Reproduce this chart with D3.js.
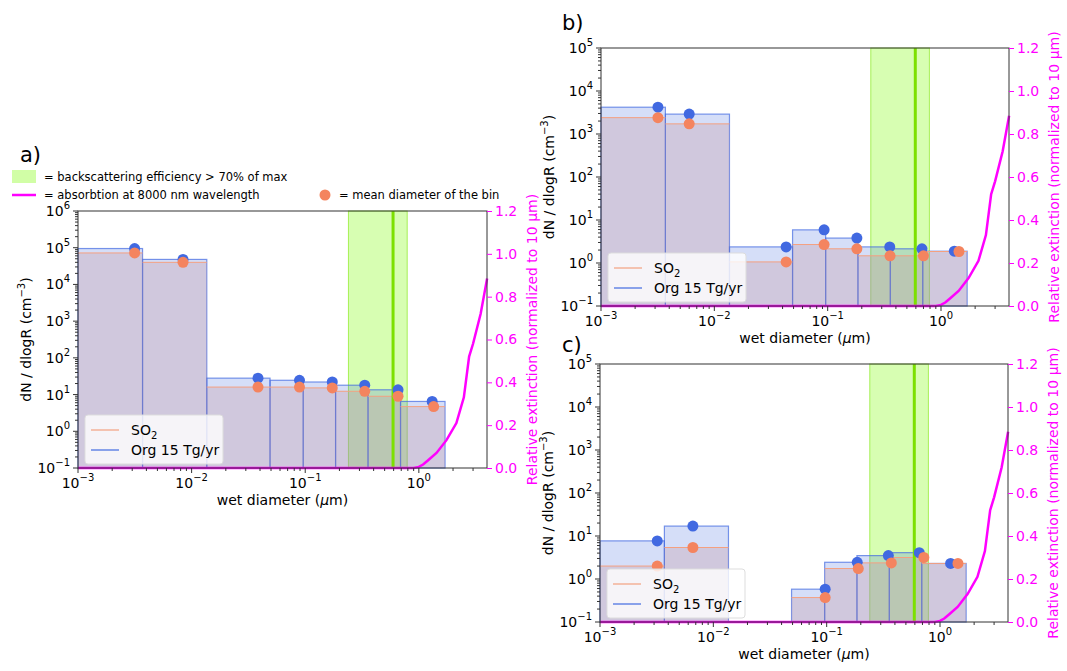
<!DOCTYPE html>
<html><head><meta charset="utf-8">
<script src="https://cdn.jsdelivr.net/npm/d3@7"></script>
<style>body{margin:0;background:#fff}svg{font-family:"DejaVu Sans",sans-serif}</style>
</head><body><svg id="c" width="1067" height="671"></svg>
<script>
// ---- data ----
const binEdges = [0.001, 0.0037, 0.0136, 0.049, 0.096, 0.185, 0.357, 0.69, 1.7];
const aOrg = [95000, 48000, 28, 24.5, 22, 18, 13.5, 6.5];
const aSO2 = [72000, 40000, 16, 16, 15.2, 12.3, 9, 4.7];
const aOrgX = [0.00315, 0.0084, 0.0384, 0.089, 0.173, 0.334, 0.656, 1.31];
const aSO2X = [0.00315, 0.0084, 0.0384, 0.089, 0.173, 0.334, 0.656, 1.35];
const bOrg = [4200, 2900, 2.37, 5.9, 3.8, 2.37, 2.14, 1.88];
const bSO2 = [2400, 1720, 1.06, 2.69, 2.14, 1.47, 1.47, 1.85];
const bOrgX = [0.00318, 0.006, 0.043, 0.093, 0.181, 0.353, 0.679, 1.31];
const bSO2X = [0.00318, 0.006, 0.043, 0.093, 0.181, 0.355, 0.70, 1.44];
const cOrg = [7.7, 17, null, 0.58, 2.45, 3.5, 4.1, 2.3];
const cSO2 = [2.0, 5.4, null, 0.37, 1.75, 2.37, 3.16, 2.3];
const cOrgX = [0.0032, 0.0066, null, 0.097, 0.186, 0.35, 0.656, 1.24];
const cSO2X = [0.0032, 0.0066, null, 0.097, 0.19, 0.372, 0.72, 1.44];
const bandRange = [0.24, 0.79];
const bandLine = 0.593;
const extX = [0.001, 0.9, 1.0, 1.09, 1.2, 1.43, 1.75, 2.14, 2.49, 2.77, 3.0, 3.5, 3.99];
const extY = [0, 0, 0.005, 0.016, 0.035, 0.07, 0.13, 0.21, 0.33, 0.52, 0.58, 0.72, 0.885];
const rightTicks = [0.0, 0.2, 0.4, 0.6, 0.8, 1.0, 1.2];

const svg = d3.select("#c");
const supMinus = "\u2212";

function drawPanel(p){
  const g = svg.append("g");
  const x = d3.scaleLog().domain([0.001, 3.98]).range([p.l, p.r]);
  const y = d3.scaleLog().domain([0.1, p.ymax]).range([p.b, p.t]);
  const yr = d3.scaleLinear().domain([0, 1.2]).range([p.b, p.t]);
  // band
  g.append("rect").attr("x", x(bandRange[0])).attr("width", x(bandRange[1]) - x(bandRange[0]))
    .attr("y", p.t).attr("height", p.b - p.t).attr("fill", "rgba(124,252,0,0.3)").attr("stroke", "rgba(124,230,0,0.6)");
  // bars
  const bars = d3.range(8);
  bars.forEach(i => {
    const x0 = x(binEdges[i]), x1 = x(binEdges[i+1]);
    if (p.org[i] != null) g.append("rect").attr("x", x0).attr("width", x1 - x0).attr("y", y(p.org[i])).attr("height", p.b - y(p.org[i]))
      .attr("fill", "rgba(65,105,225,0.22)").attr("stroke", "rgba(65,105,225,0.7)").attr("stroke-width", 1.2);
  });
  bars.forEach(i => {
    const x0 = x(binEdges[i]), x1 = x(binEdges[i+1]);
    if (p.so2[i] != null) {
      g.append("rect").attr("x", x0).attr("width", x1 - x0).attr("y", y(p.so2[i])).attr("height", p.b - y(p.so2[i]))
        .attr("fill", "rgba(200,150,160,0.3)");
      g.append("line").attr("x1", x0).attr("x2", x1).attr("y1", y(p.so2[i])).attr("y2", y(p.so2[i])).attr("stroke", "#f4a080").attr("stroke-width", 1);
    }
  });
  // band line drawn over bars
  g.append("line").attr("x1", x(bandLine)).attr("x2", x(bandLine)).attr("y1", p.t).attr("y2", p.b).attr("stroke", "#7ce000").attr("stroke-width", 3);
  // dots
  bars.forEach(i => {
    if (p.org[i] != null) g.append("circle").attr("cx", x(p.orgX[i])).attr("cy", y(p.org[i])).attr("r", 5.5).attr("fill", "#4169e1");
  });
  bars.forEach(i => {
    if (p.so2[i] != null) g.append("circle").attr("cx", x(p.so2X[i])).attr("cy", y(p.so2[i])).attr("r", 5.5).attr("fill", "#f4845f");
  });
  // redraw org dots slightly underneath? (orange over blue as in reference when overlapping)
  // extinction curve
  const line = d3.line().x((d, i) => x(extX[i])).y(d => yr(d));
  g.append("path").attr("d", line(extY)).attr("fill", "none").attr("stroke", "#ff00ff").attr("stroke-width", 2.5);
  // frame
  g.append("rect").attr("x", p.l).attr("y", p.t).attr("width", p.r - p.l).attr("height", p.b - p.t).attr("fill", "none").attr("stroke", "#333").attr("stroke-width", 1);
  // x axis
  const xt = g.append("g").attr("transform", `translate(0,${p.b})`);
  const minorX = [];
  for (let e = -3; e <= 0; e++) for (let m = 1; m <= 9; m++) { const v = m * Math.pow(10, e); if (v <= 3.98) minorX.push(v); }
  minorX.forEach(v => {
    const major = Math.abs(Math.log10(v) - Math.round(Math.log10(v))) < 1e-9;
    xt.append("line").attr("x1", x(v)).attr("x2", x(v)).attr("y1", 0).attr("y2", major ? 5 : 3).attr("stroke", "#333");
    if (major) {
      const t = xt.append("text").attr("x", x(v)).attr("y", 20).attr("text-anchor", "middle").attr("font-size", 14).attr("fill", "#000");
      t.append("tspan").text("10");
      const e = Math.round(Math.log10(v));
      t.append("tspan").attr("dy", -7).attr("font-size", 10).text(e < 0 ? supMinus + Math.abs(e) : "" + e);
    }
  });
  const xl = g.append("text").attr("x", (p.l + p.r) / 2).attr("y", p.b + 37).attr("text-anchor", "middle").attr("font-size", 14);
  xl.append("tspan").text("wet diameter (");
  xl.append("tspan").attr("font-style", "italic").text("\u03bc");
  xl.append("tspan").text("m)");
  // y axis left
  const yt = g.append("g");
  const emax = Math.round(Math.log10(p.ymax));
  for (let e = -1; e <= emax; e++) {
    yt.append("line").attr("x1", p.l - 5).attr("x2", p.l).attr("y1", y(Math.pow(10, e))).attr("y2", y(Math.pow(10, e))).attr("stroke", "#333");
    const t = yt.append("text").attr("x", p.l - 8).attr("y", y(Math.pow(10, e)) + 5).attr("text-anchor", "end").attr("font-size", 14);
    t.append("tspan").text("10");
    t.append("tspan").attr("dy", -7).attr("font-size", 10).text(e < 0 ? supMinus + Math.abs(e) : "" + e);
    if (e < emax) for (let m = 2; m <= 9; m++) {
      const v = m * Math.pow(10, e);
      yt.append("line").attr("x1", p.l - 3).attr("x2", p.l).attr("y1", y(v)).attr("y2", y(v)).attr("stroke", "#333");
    }
  }
  const yl = g.append("text").attr("transform", `translate(${p.l - 47},${(p.t + p.b) / 2}) rotate(-90)`).attr("text-anchor", "middle").attr("font-size", 14);
  yl.append("tspan").text("dN / dlogR (cm");
  yl.append("tspan").attr("dy", -6).attr("font-size", 10).text(supMinus + "3");
  yl.append("tspan").attr("dy", 6).text(")");
  // right axis
  const ra = g.append("g").attr("transform", `translate(${p.r},0)`)
    .call(d3.axisRight(yr).tickValues(rightTicks).tickFormat(d3.format(".1f")).tickSize(5).tickSizeOuter(0));
  ra.select(".domain").remove();
  ra.selectAll("line").attr("stroke", "#ff00ff");
  ra.selectAll("text").attr("fill", "#ff00ff").attr("font-size", 14).attr("font-family", "DejaVu Sans").attr("x", 8);
  g.append("text").attr("transform", `translate(${p.r + 50},${(p.t + p.b) / 2}) rotate(-90)`).attr("text-anchor", "middle")
    .attr("font-size", 14).attr("fill", "#ff00ff").text("Relative extinction (normalized to 10 \u03bcm)");
  // legend
  const lg = g.append("g").attr("transform", `translate(${p.l + 7},${p.b - 53})`);
  lg.append("rect").attr("width", 138).attr("height", 49).attr("rx", 3).attr("fill", "rgba(255,255,255,0.8)").attr("stroke", "#ddd");
  lg.append("line").attr("x1", 6).attr("x2", 34).attr("y1", 15).attr("y2", 15).attr("stroke", "#f4a080").attr("stroke-width", 1.2);
  const s = lg.append("text").attr("x", 46).attr("y", 20).attr("font-size", 14);
  s.append("tspan").text("SO"); s.append("tspan").attr("font-size", 10).attr("dy", 4).text("2");
  lg.append("line").attr("x1", 6).attr("x2", 34).attr("y1", 35).attr("y2", 35).attr("stroke", "#4169e1").attr("stroke-width", 1.2);
  lg.append("text").attr("x", 46).attr("y", 40).attr("font-size", 14).text("Org 15 Tg/yr");
}

drawPanel({l: 78, r: 487, t: 211, b: 468, ymax: 1e6, org: aOrg, so2: aSO2, orgX: aOrgX, so2X: aSO2X});
drawPanel({l: 601, r: 1009, t: 48, b: 306, ymax: 1e5, org: bOrg, so2: bSO2, orgX: bOrgX, so2X: bSO2X});
drawPanel({l: 600, r: 1008, t: 364, b: 622, ymax: 1e5, org: cOrg, so2: cSO2, orgX: cOrgX, so2X: cSO2X});

// panel labels
svg.append("text").attr("x", 20).attr("y", 162).attr("font-size", 21).text("a)");
svg.append("text").attr("x", 562).attr("y", 30).attr("font-size", 21).text("b)");
svg.append("text").attr("x", 562).attr("y", 352).attr("font-size", 21).text("c)");
// top legend
svg.append("rect").attr("x", 12).attr("y", 170).attr("width", 24).attr("height", 13).attr("fill", "rgba(124,252,0,0.35)");
svg.append("text").attr("x", 44).attr("y", 181).attr("font-size", 11.5).text("= backscattering efficiency > 70% of max");
svg.append("line").attr("x1", 12).attr("x2", 36).attr("y1", 195).attr("y2", 195).attr("stroke", "#ff00ff").attr("stroke-width", 2.5);
svg.append("text").attr("x", 44).attr("y", 199).attr("font-size", 11.5).text("= absorbtion at 8000 nm wavelength");
svg.append("circle").attr("cx", 325).attr("cy", 195).attr("r", 5.5).attr("fill", "#f4845f");
svg.append("text").attr("x", 339).attr("y", 199).attr("font-size", 11.5).text("= mean diameter of the bin");
</script></body></html>
